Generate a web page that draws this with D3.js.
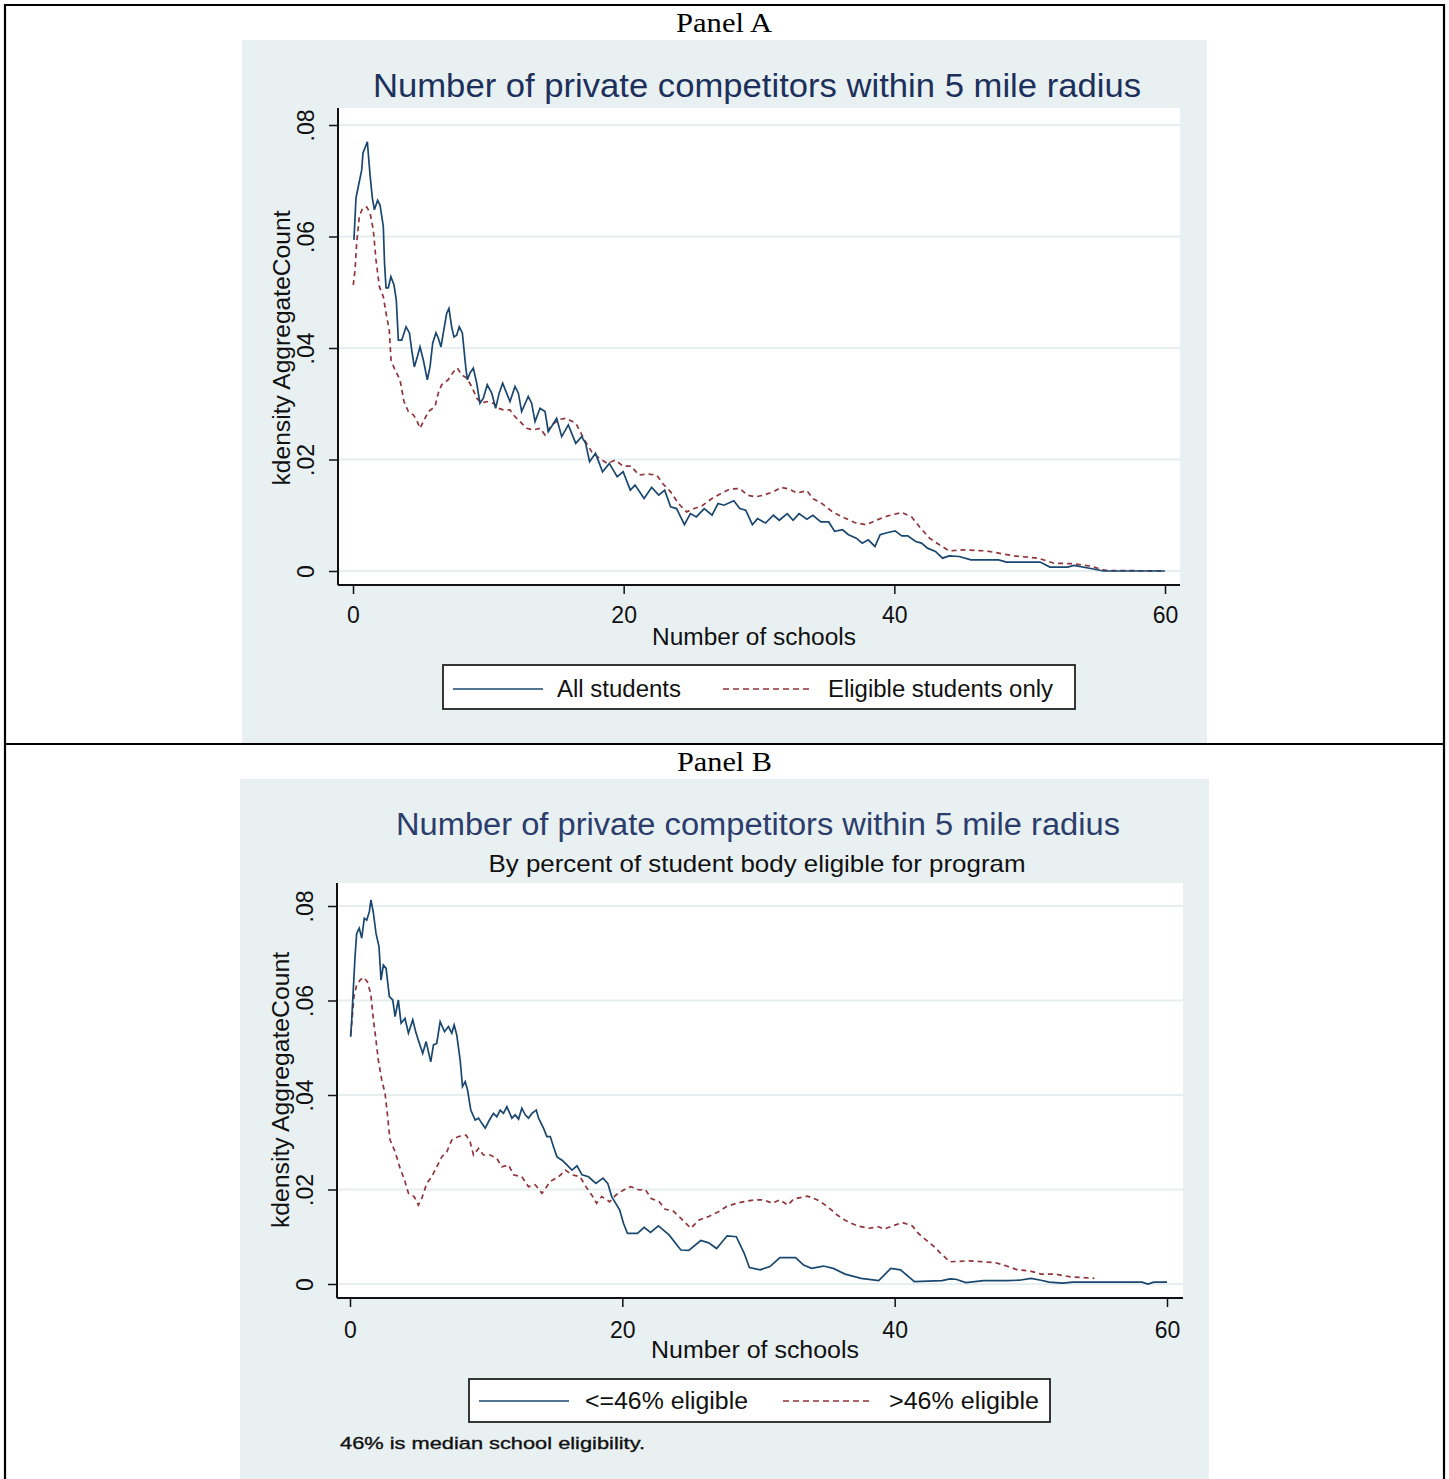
<!DOCTYPE html>
<html>
<head>
<meta charset="utf-8">
<script src="https://cdn.jsdelivr.net/npm/d3@7"></script>
<style>
  html, body { margin: 0; padding: 0; background: #ffffff; }
  svg { display: block; }
  text { font-family: "Liberation Sans", Arial, sans-serif; }
  text.serif { font-family: "Liberation Serif", "Times New Roman", serif; }
</style>
</head>
<body>
<svg id="chart" width="1449" height="1479"></svg>
<script>
// ---------------- DATA ----------------
const panelLabels = ["Panel A", "Panel B"];
const titleA = "Number of private competitors within 5 mile radius";
const titleB = "Number of private competitors within 5 mile radius";
const subtitleB = "By percent of student body eligible for program";
const yAxisTitle = "kdensity AggregateCount";
const xAxisTitle = "Number of schools";
const xTicks = [0, 20, 40, 60];
const yTicks = [0, 0.02, 0.04, 0.06, 0.08];
const yTickLabels = ["0", ".02", ".04", ".06", ".08"];
const legendA = ["All students", "Eligible students only"];
const legendB = ["<=46% eligible", ">46% eligible"];
const noteB = "46% is median school eligibility.";

// Panel A: All students  [x, density]
const allStudents = [[0.07,0.0594],[0.22,0.0669],[0.37,0.0687],[0.64,0.0719],[0.74,0.075],[1.06,0.077],[1.26,0.071],[1.43,0.0669],[1.58,0.0648],[1.82,0.0665],[2.0,0.0656],[2.24,0.0618],[2.33,0.0552],[2.44,0.0508],[2.61,0.0508],[2.8,0.0528],[3.03,0.0513],[3.2,0.0486],[3.35,0.0414],[3.6,0.0414],[3.92,0.0438],[4.17,0.0427],[4.34,0.0396],[4.53,0.0366],[4.75,0.0384],[4.95,0.0402],[5.2,0.0378],[5.49,0.0343],[5.69,0.0366],[5.89,0.0409],[6.13,0.0427],[6.3,0.0418],[6.5,0.0402],[6.75,0.0438],[6.92,0.0462],[7.09,0.0471],[7.29,0.0438],[7.46,0.042],[7.66,0.0423],[7.85,0.0438],[8.08,0.0427],[8.33,0.0366],[8.45,0.0343],[8.64,0.0355],[8.89,0.0364],[9.14,0.0337],[9.38,0.0301],[9.63,0.031],[9.92,0.0334],[10.25,0.0319],[10.54,0.0292],[10.8,0.0319],[11.06,0.0337],[11.35,0.0319],[11.6,0.0304],[11.97,0.0331],[12.22,0.0319],[12.46,0.0286],[12.95,0.0313],[13.2,0.0301],[13.45,0.0268],[13.82,0.0292],[14.19,0.0286],[14.43,0.025],[15.05,0.0274],[15.42,0.0241],[15.91,0.0262],[16.46,0.0229],[16.9,0.0241],[17.19,0.0229],[17.48,0.0196],[17.92,0.0211],[18.44,0.0178],[18.94,0.0193],[19.52,0.0169],[19.96,0.0178],[20.49,0.0145],[20.84,0.0154],[21.51,0.013],[22.07,0.015],[22.59,0.0136],[23.03,0.0145],[23.47,0.0115],[23.91,0.0112],[24.49,0.0083],[24.93,0.0103],[25.37,0.0097],[25.95,0.0112],[26.53,0.01],[26.97,0.0121],[27.41,0.0118],[28.14,0.0126],[28.58,0.0112],[29.02,0.0109],[29.51,0.0083],[29.89,0.0094],[30.48,0.0086],[31.06,0.01],[31.5,0.0091],[32.08,0.0103],[32.52,0.0091],[32.96,0.0103],[33.54,0.0093],[33.98,0.01],[34.57,0.0088],[35.15,0.0088],[35.59,0.0071],[36.17,0.0074],[36.61,0.0065],[37.19,0.0059],[37.63,0.005],[38.07,0.0056],[38.57,0.0044],[38.95,0.0065],[39.53,0.0069],[40.06,0.0072],[40.55,0.0063],[40.99,0.0063],[41.58,0.0053],[42.01,0.005],[42.45,0.0041],[43.04,0.0035],[43.56,0.0023],[44.06,0.0027],[44.79,0.0026],[45.66,0.002],[47.71,0.002],[48.29,0.0016],[50.77,0.0016],[51.5,0.0007],[52.82,0.0007],[53.26,0.001],[54.42,0.0005],[55.45,0],[60,0]];

// Panel A: Eligible students only
const eligibleStudents = [[0.02,0.0513],[0.15,0.054],[0.27,0.0588],[0.47,0.0636],[0.71,0.0651],[1.01,0.0653],[1.26,0.0642],[1.5,0.0612],[1.7,0.0558],[1.95,0.051],[2.24,0.0492],[2.49,0.0456],[2.68,0.0432],[2.81,0.0378],[3.1,0.0361],[3.47,0.0343],[3.77,0.0304],[4.09,0.0286],[4.46,0.028],[4.7,0.0271],[4.95,0.0256],[5.2,0.0268],[5.57,0.0286],[6.06,0.0295],[6.3,0.0319],[6.55,0.0334],[7.04,0.0343],[7.41,0.0357],[7.71,0.0364],[8.03,0.0352],[8.4,0.0346],[8.77,0.0331],[9.14,0.031],[9.51,0.0301],[9.88,0.0304],[10.37,0.0301],[10.74,0.0292],[11.11,0.0289],[11.6,0.0289],[11.85,0.028],[12.34,0.0268],[12.83,0.0256],[13.32,0.0253],[13.82,0.0256],[14.19,0.0244],[14.68,0.0262],[15.29,0.0272],[15.73,0.0274],[16.46,0.0265],[17.04,0.0238],[17.63,0.0214],[18.21,0.0202],[18.79,0.0193],[19.38,0.0199],[19.96,0.0188],[20.55,0.0188],[21.13,0.0172],[21.72,0.0174],[22.45,0.0172],[22.88,0.0157],[23.47,0.0142],[24.05,0.0121],[24.64,0.0106],[25.22,0.0112],[25.8,0.0117],[26.53,0.013],[27.26,0.014],[27.85,0.0147],[28.58,0.0148],[29.16,0.0136],[29.75,0.0133],[30.33,0.0136],[31.06,0.0142],[31.65,0.015],[32.23,0.0147],[32.81,0.014],[33.54,0.0144],[33.98,0.013],[34.71,0.012],[35.44,0.0106],[36.17,0.0097],[37.05,0.0087],[37.92,0.0083],[38.65,0.0091],[39.53,0.0099],[40.55,0.0105],[41.28,0.0097],[41.87,0.0079],[42.6,0.0059],[43.33,0.0047],[44.06,0.0036],[45.08,0.0038],[46.83,0.0036],[47.71,0.0032],[48.88,0.0027],[50.63,0.0023],[51.8,0.0014],[53.26,0.0013],[54.42,0.0009],[55.6,0.0001],[60,0]];

// Panel B: <=46% eligible
const lowEligible = [[0.05,0.0523],[0.12,0.0555],[0.24,0.0622],[0.37,0.0693],[0.49,0.0742],[0.68,0.0753],[0.86,0.0732],[1.05,0.0774],[1.23,0.077],[1.42,0.0788],[1.54,0.0813],[1.72,0.0785],[1.91,0.0742],[2.13,0.0714],[2.28,0.0643],[2.45,0.0675],[2.65,0.0668],[2.89,0.0608],[3.14,0.0601],[3.31,0.0566],[3.55,0.0601],[3.75,0.0552],[4.04,0.0562],[4.29,0.0531],[4.61,0.0559],[4.85,0.0531],[5.1,0.0509],[5.34,0.0488],[5.59,0.0513],[5.93,0.047],[6.13,0.0506],[6.37,0.0509],[6.62,0.0555],[6.94,0.0534],[7.23,0.0545],[7.48,0.0531],[7.65,0.0548],[7.84,0.0527],[8.09,0.0474],[8.26,0.0418],[8.46,0.0428],[8.63,0.0411],[8.87,0.0368],[9.19,0.0347],[9.44,0.0351],[9.68,0.034],[9.93,0.033],[10.24,0.0347],[10.54,0.0361],[10.78,0.0354],[11.03,0.0368],[11.27,0.0361],[11.52,0.0375],[11.89,0.0351],[12.13,0.0358],[12.38,0.0349],[12.62,0.0372],[12.87,0.0358],[13.11,0.0351],[13.36,0.0361],[13.68,0.0368],[13.85,0.0351],[14.21,0.033],[14.46,0.0312],[14.71,0.0312],[14.95,0.029],[15.2,0.0269],[15.57,0.0262],[15.93,0.0252],[16.3,0.0241],[16.67,0.025],[17.04,0.0231],[17.52,0.0227],[18.06,0.0213],[18.58,0.0224],[18.93,0.0213],[19.22,0.0185],[19.8,0.0157],[20.09,0.0128],[20.38,0.0107],[21.11,0.0107],[21.6,0.012],[22.07,0.0109],[22.65,0.0123],[23.43,0.0104],[24.3,0.0072],[24.88,0.0071],[25.76,0.0092],[26.34,0.0087],[26.92,0.0075],[27.7,0.0102],[28.37,0.01],[28.95,0.0065],[29.33,0.0035],[30.12,0.003],[30.84,0.0037],[31.57,0.0056],[32.73,0.0056],[33.31,0.004],[33.89,0.0033],[34.77,0.0038],[35.49,0.0033],[36.36,0.0021],[37.53,0.0012],[38.83,0.0007],[39.71,0.0033],[40.43,0.003],[41.45,0.0005],[43.48,0.0007],[44.06,0.0011],[44.5,0.001],[45.23,0.0003],[46.53,0.0007],[48.28,0.0007],[49.15,0.0008],[50.02,0.0012],[50.75,0.0008],[51.33,0.0004],[52.35,0.0002],[53.08,0.0004],[58.16,0.0004],[58.6,0],[59.03,0.0004],[60,0.0004]];

// Panel B: >46% eligible
const highEligible = [[0.05,0.0527],[0.17,0.0566],[0.29,0.0608],[0.49,0.0633],[0.74,0.0643],[0.98,0.0649],[1.27,0.064],[1.52,0.0615],[1.72,0.0559],[1.91,0.0516],[2.08,0.0474],[2.33,0.0432],[2.57,0.0404],[2.74,0.0361],[2.94,0.0305],[3.31,0.028],[3.68,0.0245],[4.04,0.0217],[4.29,0.0192],[4.71,0.0185],[5.02,0.0167],[5.27,0.0181],[5.64,0.0213],[6.0,0.0227],[6.37,0.0248],[6.74,0.0269],[7.11,0.028],[7.48,0.0305],[7.96,0.0312],[8.53,0.0315],[8.82,0.0301],[9.07,0.0273],[9.44,0.0287],[9.8,0.0273],[10.29,0.0273],[10.78,0.0266],[11.15,0.0248],[11.64,0.0252],[12.01,0.0231],[12.62,0.0227],[13.11,0.0206],[13.6,0.021],[14.1,0.0192],[14.71,0.0217],[15.32,0.0227],[15.81,0.0241],[16.31,0.0231],[16.89,0.0227],[17.33,0.0206],[17.76,0.0188],[18.11,0.0171],[18.49,0.0185],[19.07,0.0174],[19.51,0.0188],[20.09,0.0199],[20.61,0.0206],[21.25,0.0199],[21.69,0.02],[22.12,0.0181],[22.71,0.0174],[23.14,0.0158],[23.72,0.0155],[24.3,0.0139],[25.03,0.0118],[25.61,0.0135],[26.34,0.0143],[27.06,0.0153],[27.65,0.0164],[28.52,0.0172],[29.68,0.0178],[30.41,0.0178],[30.99,0.0171],[31.57,0.0178],[32.15,0.0167],[32.59,0.018],[33.6,0.0186],[34.33,0.0178],[34.91,0.0167],[35.35,0.0157],[35.78,0.0146],[36.36,0.0135],[37.24,0.0123],[38.11,0.0118],[38.83,0.0121],[39.21,0.0116],[39.85,0.0123],[40.58,0.013],[41.3,0.0123],[41.74,0.0107],[42.32,0.0093],[42.9,0.0079],[43.34,0.0066],[44.06,0.0047],[45.37,0.0049],[46.53,0.0047],[47.41,0.0045],[48.13,0.0039],[49.01,0.003],[49.88,0.0028],[50.75,0.0021],[51.77,0.0021],[52.93,0.0015],[54.67,0.0012]];

// ---------------- STYLE ----------------
const BG = "#e8f0f2";
const GRID = "#e6eef0";
const NAVY = "#1a476f";
const MAROON = "#90353b";
const TITLE_COL = "#1d305c";

const svg = d3.select("#chart");

svg.append("rect").attr("x", 0).attr("y", 0).attr("width", 1449).attr("height", 1479).attr("fill", "#fff");

function drawPanel(cfg) {
  const g = svg.append("g");
  g.append("rect").attr("x", cfg.bg[0]).attr("y", cfg.bg[1]).attr("width", cfg.bg[2]).attr("height", cfg.bg[3]).attr("fill", BG);
  g.append("rect").attr("x", cfg.plot[0]).attr("y", cfg.plot[1])
    .attr("width", cfg.plot[2] - cfg.plot[0]).attr("height", cfg.plot[3] - cfg.plot[1]).attr("fill", "#ffffff");

  const x = d3.scaleLinear().domain([0, 60]).range(cfg.xr);
  const y = d3.scaleLinear().domain([0, 0.08]).range(cfg.yr);

  g.append("g").selectAll("line").data(yTicks).join("line")
    .attr("x1", cfg.plot[0] + 1).attr("x2", cfg.plot[2])
    .attr("y1", d => y(d)).attr("y2", d => y(d))
    .attr("stroke", GRID).attr("stroke-width", 2);

  const yAxis = d3.axisLeft(y).tickValues(yTicks).tickFormat((d, i) => yTickLabels[i]).tickSize(9).tickSizeOuter(0);
  const ya = g.append("g").attr("transform", `translate(${cfg.plot[0]},0)`).call(yAxis);
  ya.select(".domain").attr("d", `M0,${cfg.plot[1]}V${cfg.plot[3]}`).attr("stroke", "#111").attr("stroke-width", 2);
  ya.selectAll(".tick line").attr("stroke", "#111").attr("stroke-width", 1.5);
  ya.selectAll(".tick text")
    .attr("transform", "rotate(-90)")
    .attr("x", 0).attr("y", -24).attr("dy", null)
    .attr("text-anchor", "middle")
    .attr("font-size", 23)
    .attr("fill", "#111");

  const xAxis = d3.axisBottom(x).tickValues(xTicks).tickFormat(d3.format("d")).tickSize(9).tickSizeOuter(0);
  const xa = g.append("g").attr("transform", `translate(0,${cfg.plot[3]})`).call(xAxis);
  xa.select(".domain").attr("d", `M${cfg.plot[0]},0H${cfg.plot[2]}`).attr("stroke", "#111").attr("stroke-width", 2);
  xa.selectAll(".tick line").attr("stroke", "#111").attr("stroke-width", 1.5).attr("y1", 1);
  xa.selectAll(".tick text").attr("y", cfg.xTickBase - cfg.plot[3]).attr("dy", null)
    .attr("font-size", 23).attr("fill", "#111");

  g.append("text").attr("transform", `translate(${cfg.yTitle[0]},${cfg.yTitle[1]}) rotate(-90)`)
    .attr("text-anchor", "middle").attr("font-size", 23).attr("fill", "#111")
    .attr("textLength", cfg.yTitle[2]).attr("lengthAdjust", "spacingAndGlyphs")
    .text(yAxisTitle);
  g.append("text").attr("x", cfg.xTitle[0]).attr("y", cfg.xTitle[1])
    .attr("text-anchor", "middle").attr("font-size", 23).attr("fill", "#111")
    .attr("textLength", cfg.xTitle[2]).attr("lengthAdjust", "spacingAndGlyphs")
    .text(xAxisTitle);

  g.append("text").attr("x", cfg.title[0]).attr("y", cfg.title[1])
    .attr("text-anchor", "middle").attr("font-size", cfg.title[3]).attr("fill", cfg.titleColor)
    .attr("textLength", cfg.title[2]).attr("lengthAdjust", "spacingAndGlyphs")
    .text(cfg.titleText);
  if (cfg.subtitleText) {
    g.append("text").attr("x", cfg.subtitle[0]).attr("y", cfg.subtitle[1])
      .attr("text-anchor", "middle").attr("font-size", cfg.subtitle[3]).attr("fill", "#111")
      .attr("textLength", cfg.subtitle[2]).attr("lengthAdjust", "spacingAndGlyphs")
      .text(cfg.subtitleText);
  }

  const line = d3.line().x(d => x(d[0])).y(d => y(d[1])).curve(d3.curveLinear);
  const clipId = "clip" + cfg.id;
  g.append("clipPath").attr("id", clipId).append("rect")
    .attr("x", cfg.plot[0] + 1).attr("y", cfg.plot[1]).attr("width", cfg.plot[2] - cfg.plot[0]).attr("height", cfg.plot[3] - cfg.plot[1] - 1);
  const lg = g.append("g").attr("clip-path", `url(#${clipId})`);
  lg.append("path").datum(cfg.series2).attr("d", line).attr("fill", "none")
    .attr("stroke", MAROON).attr("stroke-width", 1.7).attr("stroke-dasharray", "5,4");
  lg.append("path").datum(cfg.series1).attr("d", line).attr("fill", "none")
    .attr("stroke", NAVY).attr("stroke-width", 1.7);

  const L = cfg.legend;
  g.append("rect").attr("x", L.box[0]).attr("y", L.box[1]).attr("width", L.box[2] - L.box[0]).attr("height", L.box[3] - L.box[1])
    .attr("fill", "#fff").attr("stroke", "#222").attr("stroke-width", 1.8);
  g.append("line").attr("x1", L.k1[0]).attr("x2", L.k1[1]).attr("y1", L.ky).attr("y2", L.ky)
    .attr("stroke", NAVY).attr("stroke-width", 1.7);
  g.append("line").attr("x1", L.k2[0]).attr("x2", L.k2[1]).attr("y1", L.ky).attr("y2", L.ky)
    .attr("stroke", MAROON).attr("stroke-width", 1.7).attr("stroke-dasharray", "6,4");
  g.append("text").attr("x", L.t1[0]).attr("y", L.tBase).attr("font-size", 23).attr("fill", "#111")
    .attr("textLength", L.t1[1]).attr("lengthAdjust", "spacingAndGlyphs").text(L.labels[0]);
  g.append("text").attr("x", L.t2[0]).attr("y", L.tBase).attr("font-size", 23).attr("fill", "#111")
    .attr("textLength", L.t2[1]).attr("lengthAdjust", "spacingAndGlyphs").text(L.labels[1]);

  if (cfg.note) {
    g.append("text").attr("x", cfg.note[0]).attr("y", cfg.note[1]).attr("font-size", 17).attr("fill", "#111")
      .attr("stroke", "#111").attr("stroke-width", 0.35)
      .attr("textLength", cfg.note[2]).attr("lengthAdjust", "spacingAndGlyphs").text(cfg.noteText);
  }
}

drawPanel({
  id: "A",
  bg: [242, 40, 965, 703],
  plot: [338, 108, 1180, 585],
  xr: [353, 1165], yr: [571, 125],
  xTickBase: 623,
  yTitle: [290, 348, 275],
  xTitle: [754, 645, 204],
  title: [757, 97, 768, 33], titleColor: TITLE_COL, titleText: titleA,
  series1: allStudents, series2: eligibleStudents,
  legend: { box: [443, 665, 1075, 709], k1: [453, 543], k2: [723, 813], ky: 689,
            t1: [557, 124], t2: [828, 225], tBase: 697, labels: legendA }
});

drawPanel({
  id: "B",
  bg: [240, 779, 969, 700],
  plot: [337, 883, 1183, 1298],
  xr: [350, 1167], yr: [1284, 906],
  xTickBase: 1338,
  yTitle: [289, 1090, 276],
  xTitle: [755, 1358, 208],
  title: [758, 835, 724, 31], titleColor: "#2c3d6c", titleText: titleB,
  subtitle: [757, 872, 537, 24], subtitleText: subtitleB,
  series1: lowEligible, series2: highEligible,
  legend: { box: [469, 1379, 1050, 1422], k1: [479, 569], k2: [783, 873], ky: 1401,
            t1: [585, 163], t2: [889, 150], tBase: 1409, labels: legendB },
  note: [340, 1449, 305], noteText: noteB
});

// table frame and panel labels
const frame = svg.append("g").attr("stroke", "#000").attr("stroke-width", 2.2).attr("fill", "none");
frame.append("line").attr("x1", 4).attr("x2", 1445).attr("y1", 5).attr("y2", 5);
frame.append("line").attr("x1", 5).attr("x2", 5).attr("y1", 4).attr("y2", 1479);
frame.append("line").attr("x1", 1444).attr("x2", 1444).attr("y1", 4).attr("y2", 1479);
frame.append("line").attr("x1", 4).attr("x2", 1445).attr("y1", 744).attr("y2", 744);

svg.append("text").attr("class", "serif").attr("x", 676).attr("y", 32)
  .attr("font-size", 27).attr("fill", "#000")
  .attr("textLength", 96).attr("lengthAdjust", "spacingAndGlyphs")
  .text(panelLabels[0]);
svg.append("text").attr("class", "serif").attr("x", 677).attr("y", 771)
  .attr("font-size", 27).attr("fill", "#000")
  .attr("textLength", 95).attr("lengthAdjust", "spacingAndGlyphs")
  .text(panelLabels[1]);
</script>
</body>
</html>
